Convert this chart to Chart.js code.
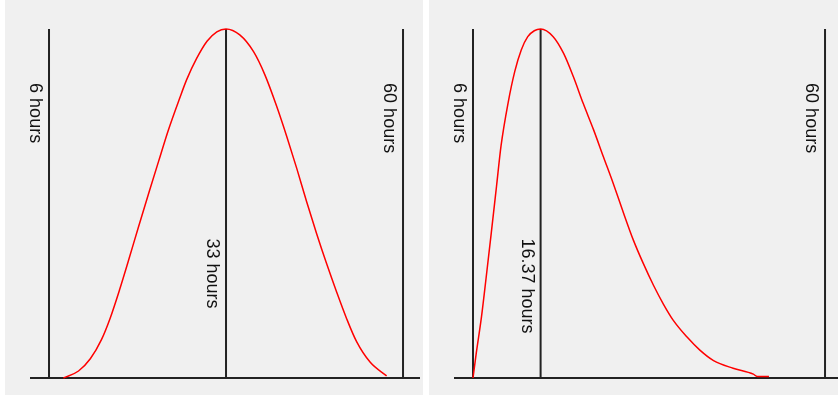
<!DOCTYPE html>
<html>
<head>
<meta charset="utf-8">
<script src="https://cdn.jsdelivr.net/npm/chart.js@4.4.1/dist/chart.umd.min.js"></script>
<style>
  html, body { margin: 0; padding: 0; background: #fff; }
  body { width: 838px; height: 395px; position: relative; overflow: hidden; }
  canvas { position: absolute; top: 0; background: #f0f0f0; }
  #leftChart { left: 5px; }
  #rightChart { left: 429px; }
</style>
</head>
<body>
<canvas id="leftChart" width="418" height="395"></canvas>
<canvas id="rightChart" width="409" height="395"></canvas>
<script>
// left panel: symmetric curve (hours, % of peak)
const leftHours = [8.2, 10.5, 12.3, 14.0, 15.3, 16.8, 18.1, 19.6, 21.3, 22.7, 24.2, 25.9, 27.0, 28.5, 30.1, 31.6, 33.0,
    35.1, 37.2, 38.9, 40.7, 42.3, 43.8, 45.3, 46.8, 48.3, 49.9, 51.4, 52.9, 55.0, 57.5];
const leftDensity = [0, 2.0, 5.5, 11.0, 17.0, 25.5, 33.5, 43.0, 53.5, 62.0, 71.0, 80.0, 85.5, 91.5, 96.5, 99.2, 100,
    98.3, 93.5, 87.0, 78.0, 69.0, 60.0, 50.5, 41.5, 33.0, 24.5, 17.0, 10.5, 4.5, 0.6];

// right panel: skewed curve
const rightHours = [6.0, 6.5, 7.3, 8.0, 8.8, 9.6, 10.3, 11.4, 12.4, 13.4, 14.4, 15.4, 16.37,
    18.3, 19.9, 21.4, 22.9, 24.5, 26.0, 27.5, 29.1, 30.6, 32.1, 33.7, 35.2, 36.7, 38.8, 40.8, 42.9, 45.9, 49.0, 49.6, 51.4];
const rightDensity = [0, 7.1, 17.5, 28.5, 41.5, 54.8, 66.5, 79.0, 87.8, 94.0, 97.8, 99.5, 100,
    97.8, 93.0, 86.3, 78.7, 71.1, 63.4, 55.8, 47.2, 39.5, 32.9, 26.5, 21.2, 16.6, 11.8, 8.0, 5.0, 2.8, 1.1, 0.4, 0.4];

// marker lines and their labels
const leftMarks = [6, 33, 60];
const leftMarkLabels = ['6 hours', '33 hours', '60 hours'];
const rightMarks = [6, 16.37, 60];
const rightMarkLabels = ['6 hours', '16.37 hours', '60 hours'];
const markLabelLevels = [84.5, 40, 84.5];

const markLabelPlugin = {
    id: 'markLabels',
    afterDatasetsDraw(chart, args, opts) {
        const ctx = chart.ctx;
        const xs = chart.scales.x, ys = chart.scales.y;
        ctx.save();
        ctx.fillStyle = '#111';
        ctx.font = '18px "Liberation Sans", Arial, sans-serif';
        ctx.textBaseline = 'alphabetic';
        ctx.textAlign = 'left';
        opts.marks.forEach((h, i) => {
            const px = xs.getPixelForValue(h);
            const py = ys.getPixelForValue(markLabelLevels[i]);
            ctx.save();
            ctx.translate(px - 19, py);
            ctx.rotate(Math.PI / 2);
            ctx.fillText(opts.labels[i], 0, 0);
            ctx.restore();
        });
        ctx.restore();
    }
};

function makeChart(id, hours, density, marks, labels, xMin, xMax, padLeft, padRight) {
    const datasets = [{
        data: hours.map((h, i) => ({ x: h, y: density[i] })),
        borderColor: '#ff0000',
        borderWidth: 1.5,
        cubicInterpolationMode: 'monotone',
        clip: false
    }];
    marks.forEach(h => {
        datasets.push({
            data: [{ x: h, y: 0 }, { x: h, y: 100 }],
            borderColor: '#222',
            borderWidth: 2,
            clip: false
        });
    });
    // baseline
    datasets.push({
        data: [{ x: xMin, y: 0 }, { x: xMax, y: 0 }],
        borderColor: '#222',
        borderWidth: 2,
        clip: false
    });

    return new Chart(document.getElementById(id), {
        type: 'line',
        data: { datasets: datasets },
        options: {
            responsive: false,
            animation: false,
            events: [],
            layout: { padding: { left: padLeft, right: padRight, top: 29, bottom: 17 } },
            elements: { point: { radius: 0 } },
            scales: {
                x: { type: 'linear', min: xMin, max: xMax, display: false },
                y: { min: 0, max: 100, display: false }
            },
            plugins: {
                legend: { display: false },
                tooltip: { enabled: false },
                markLabels: { marks: marks, labels: labels }
            }
        },
        plugins: [markLabelPlugin]
    });
}

makeChart('leftChart', leftHours, leftDensity, leftMarks, leftMarkLabels, 3.10, 62.59, 25, 3);
makeChart('rightChart', rightHours, rightDensity, rightMarks, rightMarkLabels, 3.085, 61.99, 25, 0);
</script>
</body>
</html>
